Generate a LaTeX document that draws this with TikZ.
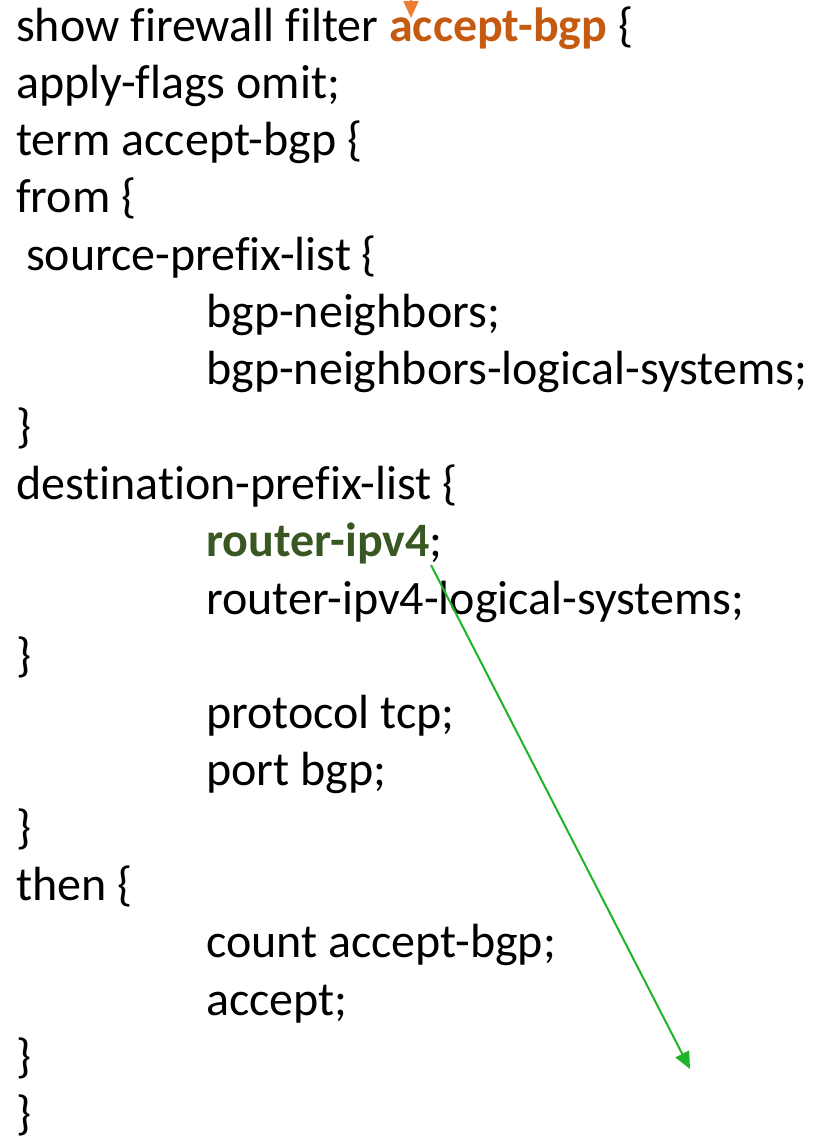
\documentclass[tikz,border=0pt]{standalone}
\usepackage{fontspec}
\setmainfont{Carlito}[Ligatures=CommonOff]
\usetikzlibrary{arrows.meta}
\definecolor{filterorange}{RGB}{197,90,17}
\definecolor{tipporange}{RGB}{237,125,49}
\definecolor{prefixgreen}{RGB}{56,87,35}
\definecolor{linkgreen}{RGB}{30,180,40}
\newcommand{\CodeIndent}{206}

\begin{document}
\begin{tikzpicture}[x=1pt,y=-1pt,>={Triangle[length=17pt,width=15pt]},
    codeline/.style={anchor=base west,inner sep=0pt,
        font=\fontsize{48}{57}\selectfont}]
                \useasboundingbox (0,0) rectangle (812,1143);

                \node[codeline] (show) at (16, 41)
                    {show firewall filter
                     \textcolor{filterorange}{\textbf{accept-bgp}} \{};
                \node[codeline] (flags) at (16, 98.3) {apply-flags omit;};
                \node[codeline] (term) at (16, 155.6) {term accept-bgp \{};
                \node[codeline] (from) at (16, 212.9) {from \{};
                \node[codeline] (srclist) at (16, 270.2)
                    {\hspace*{10pt}source-prefix-list \{};
                \node[codeline] (nbr) at (\CodeIndent, 327.5) {bgp-neighbors;};
                \node[codeline] (nbrls) at (\CodeIndent, 384.8)
                    {bgp-neighbors-logical-systems;};
                \node[codeline] (srcend) at (16, 442.1) {\}};
                \node[codeline] (dstlist) at (16, 499.4)
                    {destination-prefix-list \{};
                \node[codeline] (rtr) at (\CodeIndent, 556.7)
                    {\textcolor{prefixgreen}{\textbf{router-ipv4}};};
                \node[codeline] (rtrls) at (\CodeIndent, 614)
                    {router-ipv4-logical-systems;};
                \node[codeline] (dstend) at (16, 671.3) {\}};
                \node[codeline] (proto) at (\CodeIndent, 728.6) {protocol tcp;};
                \node[codeline] (port) at (\CodeIndent, 785.9) {port bgp;};
                \node[codeline] (fromend) at (16, 843.2) {\}};
                \node[codeline] (then) at (16, 900.5) {then \{};
                \node[codeline] (count) at (\CodeIndent, 957.8)
                    {count accept-bgp;};
                \node[codeline] (accept) at (\CodeIndent, 1015.1) {accept;};
                \node[codeline] (thenend) at (16, 1072.4) {\}};
                \node[codeline] (filterend) at (16, 1129.7) {\}};

                % arrow coming in from above the page onto the filter name
                \coordinate (filtertail) at (411, -40);
                \coordinate (filtertip) at (411, 18);
                \begin{scope}
                    \clip (0,0) rectangle (812,1143);
                    \draw[->,tipporange,line width=2pt] (filtertail) -- (filtertip);
                \end{scope}

                % router-ipv4 points down the page
                \coordinate (rtrfoot) at (431, 565);
                \coordinate (rtrtarget) at (690, 1069);
                \draw[->,linkgreen,line width=2pt] (rtrfoot) -- (rtrtarget);
            \end{tikzpicture}
\end{document}
